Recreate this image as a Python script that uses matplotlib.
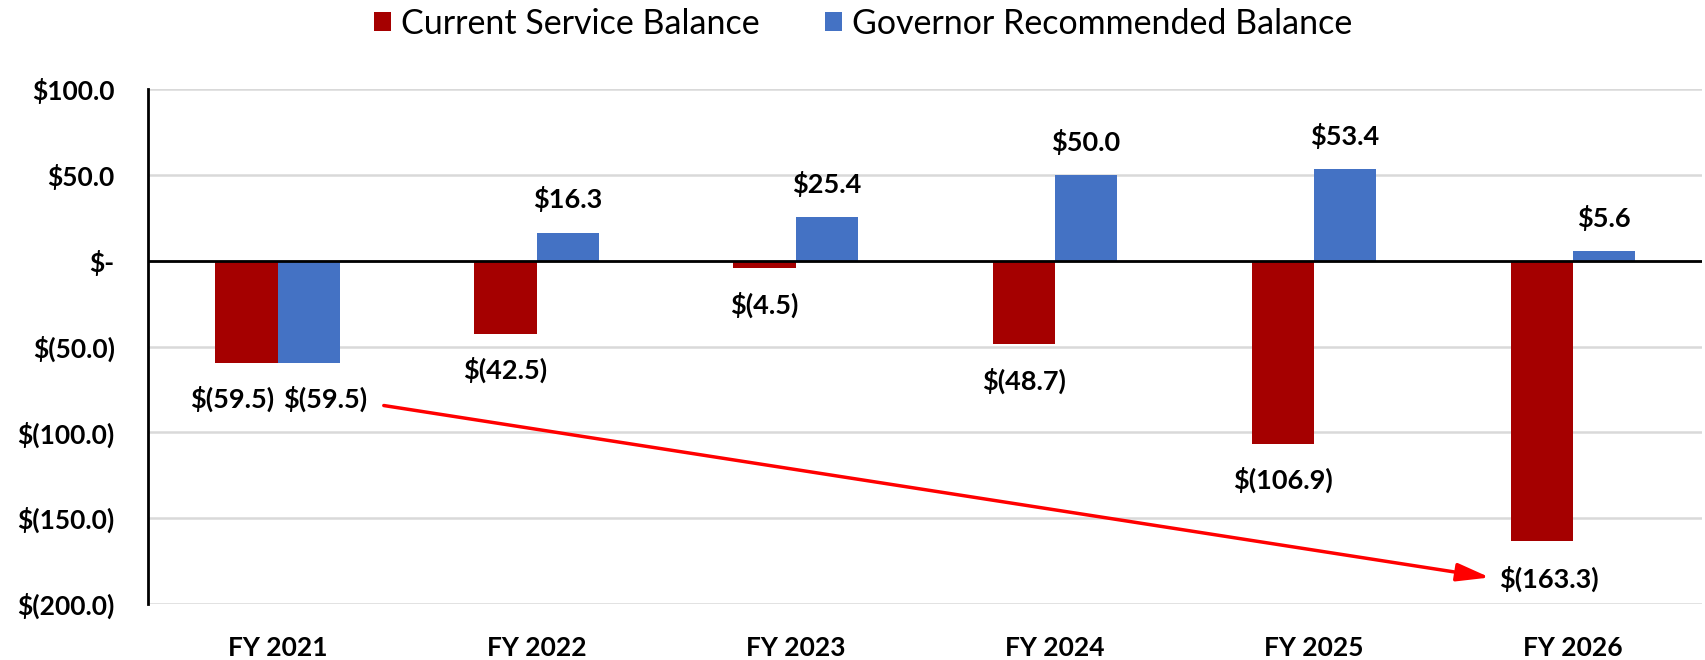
import matplotlib.pyplot as plt
import numpy as np

years = ["FY 2021", "FY 2022", "FY 2023", "FY 2024", "FY 2025", "FY 2026"]
current = [-59.5, -42.5, -4.5, -48.7, -106.9, -163.3]
governor = [-59.5, 16.3, 25.4, 50.0, 53.4, 5.6]
yticks = [100, 50, 0, -50, -100, -150, -200]

red = "#A50000"
blue = "#4472C4"


def money(v):
    if abs(v) < 1e-9:
        return "$-"
    if v < 0:
        return "$({:.1f})".format(-v)
    return "${:.1f}".format(v)


plt.rcParams['font.family'] = ['Lato', 'DejaVu Sans']

fig = plt.figure(figsize=(17.06, 6.6), dpi=100)
ax = fig.add_axes([0.0868, 0.085, 0.911, 0.780])

x = np.arange(len(years))
w = 0.24
ax.bar(x - w / 2, current, w, color=red, label="Current Service Balance", zorder=3)
ax.bar(x + w / 2, governor, w, color=blue, label="Governor Recommended Balance", zorder=3)

ax.set_ylim(-200, 100)
ax.set_xlim(-0.5, len(years) - 0.5)
ax.set_yticks(yticks)
ax.set_yticklabels([money(v) for v in yticks], fontsize=19, fontweight="bold")
ax.set_xticks(x)
ax.set_xticklabels(years, fontsize=19, fontweight="bold")
ax.tick_params(length=0)
ax.tick_params(axis="y", pad=24)
ax.tick_params(axis="x", pad=23)

ax.grid(axis="y", color="#D9D9D9", linewidth=1.8, zorder=0)
ax.axhline(0, color="black", linewidth=2, zorder=4)
for s in ["top", "right", "bottom"]:
    ax.spines[s].set_visible(False)
ax.spines["left"].set_linewidth(2)

# data labels (offsets in points)
for i in range(len(years)):
    for vals, dx in ((current, -w / 2), (governor, w / 2)):
        v = vals[i]
        xo = 0
        yo = -26 if v < 0 else 24
        if i == 0:
            xo = -10 if dx < 0 else 12
        if i == 5 and v < 0:
            xo = 5
            yo = -27
        ax.annotate(money(v), (x[i] + dx, v), xytext=(xo, yo), textcoords="offset points",
                    ha="center", va="center", fontsize=19.5, fontweight="bold", zorder=5)

# trend arrow
ax.annotate("", xy=(4.68, -184.6), xytext=(0.41, -84.4),
            arrowprops=dict(arrowstyle="-|>,head_length=2.0,head_width=0.55",
                            color="#FF0000", linewidth=2.5, shrinkA=0, shrinkB=0),
            zorder=6)

fig.legend(loc="center", bbox_to_anchor=(0.506, 0.964), ncol=2, frameon=False,
           fontsize=24.5, handlelength=0.5, handleheight=0.5, handletextpad=0.3,
           columnspacing=1.9)

fig.savefig("out.png", dpi=100)
